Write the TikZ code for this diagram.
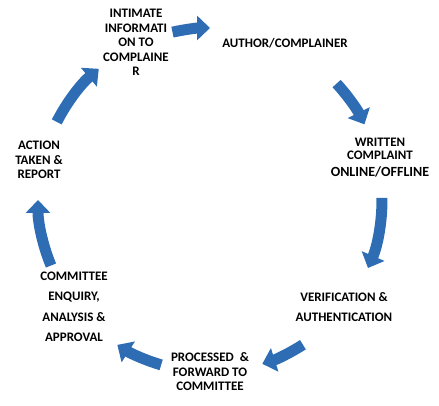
\documentclass[tikz,border=0pt]{standalone}
\usepackage{fontspec}
\setmainfont{Carlito}
\usetikzlibrary{arrows.meta}
\definecolor{arcblue}{RGB}{46,109,180}
\tikzset{
  stage/.style={align=center, inner sep=0pt,
    font=\bfseries\fontsize{13}{14.5}\selectfont},
  cyclearrow/.style={arcblue, line width=11pt,
    -{Triangle[width=24pt,length=13pt]}}
}
\begin{document}
\begin{tikzpicture}[x=1pt,y=1pt]
  \useasboundingbox (0,0) rectangle (439,406);
  \coordinate (c) at (210,206);

  \node[stage] (Intimate) at (136,363.5) {INTIMATE\\INFORMATI\\ON TO\\COMPLAINE\\R};
  \node[stage] (Author) at (285,363) {AUTHOR/COMPLAINER};
  \node[stage] (Written) at (380,248) {WRITTEN\\[-1.5pt]COMPLAINT\\[2.5pt]{\fontsize{14}{14.5}\selectfont ONLINE/OFFLINE}};
  \node[stage] (Verify) at (344,99) {VERIFICATION \&\\[5.5pt]AUTHENTICATION};
  \node[stage] (Processed) at (210,34) {PROCESSED\ \ \&\\FORWARD TO\\COMMITTEE};
  \node[stage] (Committee) at (74,99) {COMMITTEE\\[6pt]ENQUIRY,\\[6pt]ANALYSIS \&\\[6pt]APPROVAL};
  \node[stage] (Action) at (39,246) {ACTION\\TAKEN \&\\REPORT};

  % block arcs round the cycle
  \draw[cyclearrow] ([shift={(102.6:172)}]c) arc[start angle=102.6, end angle=90, radius=172];
  \draw[cyclearrow] ([shift={(42.6:172)}]c) arc[start angle=42.6, end angle=26.1, radius=172];
  \draw[cyclearrow] ([shift={(0.7:172)}]c) arc[start angle=0.7, end angle=-23.3, radius=172];
  \draw[cyclearrow] ([shift={(-57.3:172)}]c) arc[start angle=-57.3, end angle=-72.3, radius=172];
  \draw[cyclearrow] ([shift={(-106.5:172)}]c) arc[start angle=-106.5, end angle=-122.6, radius=172];
  \draw[cyclearrow] ([shift={(-157.6:172)}]c) arc[start angle=-157.6, end angle=-180, radius=172];
  \draw[cyclearrow] ([shift={(153:172)}]c) arc[start angle=153, end angle=130.3, radius=172];
\end{tikzpicture}
\end{document}
